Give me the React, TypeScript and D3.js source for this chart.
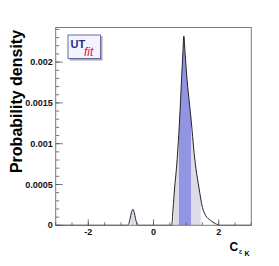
import React from 'react';
import * as d3 from 'd3';

// density curve of C_eps_K
const curveX = [-3, -0.8, -0.74, -0.7, -0.66, -0.63, -0.6, -0.56, -0.52, -0.47,
  0.56, 0.6, 0.65, 0.7, 0.75, 0.8, 0.86, 0.9, 0.93, 0.97, 1.03, 1.1, 1.16, 1.24,
  1.3, 1.39, 1.5, 1.6, 1.75, 1.9, 2.05, 3];
const curveY = [0, 0, 0.00004, 0.00012, 0.00018, 0.000196, 0.00017, 0.0001, 0.00003, 0,
  0, 0.0002, 0.00047, 0.00068, 0.00095, 0.00129, 0.00178, 0.0021, 0.00232, 0.0021,
  0.00178, 0.0015, 0.00127, 0.00091, 0.0007, 0.00047, 0.00022, 0.00012, 0.00006, 0.00002, 0, 0];

// probability intervals
const band68 = [[0.78, 1.15]];
const band95 = [[-0.7, -0.555], [0.615, 1.45]];

const xMajor = [-2, 0, 2];
const xMinor = d3.range(-3, 3.01, 0.5);
const yMajor = [0, 0.0005, 0.001, 0.0015, 0.002];
const yLabels = ['0', '0.0005', '0.001', '0.0015', '0.002'];
const yMinor = d3.range(0, 0.00241, 0.0001);

const W = 279, H = 266;
const L = 55.7, R = 251.3, T = 27.5, B = 225.3;

export default function App() {
  const x = d3.scaleLinear().domain([-3, 3]).range([L, R]);
  const y = d3.scaleLinear().domain([0, 0.0005 * (B - T) / 40.8]).range([B, T]);
  const pts: [number, number][] = curveX.map((v, i) => [v, curveY[i]]);
  const line = d3.line<[number, number]>().x(d => x(d[0])).y(d => y(d[1])).curve(d3.curveMonotoneX);
  const area = d3.area<[number, number]>().x(d => x(d[0])).y0(y(0)).y1(d => y(d[1])).curve(d3.curveMonotoneX);
  const areaPath = area(pts) || '';
  const font = '"Liberation Sans", Arial, Helvetica, sans-serif';

  return (
    <svg width={W} height={H} style={{ position: 'absolute', left: 0, top: 0, background: '#fff' }}>
      <defs>
        {band95.map((b, i) => (
          <clipPath id={'c95' + i} key={i}>
            <rect x={x(b[0])} y={T} width={x(b[1]) - x(b[0])} height={B - T} />
          </clipPath>
        ))}
        {band68.map((b, i) => (
          <clipPath id={'c68' + i} key={i}>
            <rect x={x(b[0])} y={T} width={x(b[1]) - x(b[0])} height={B - T} />
          </clipPath>
        ))}
      </defs>
      {band95.map((b, i) => (
        <path key={'a' + i} d={areaPath} fill="#dcdce8" clipPath={`url(#c95${i})`} />
      ))}
      {band68.map((b, i) => (
        <path key={'b' + i} d={areaPath} fill="#9494e4" clipPath={`url(#c68${i})`} />
      ))}
      <path d={line(pts) || ''} fill="none" stroke="#222" strokeWidth={1} />

      <rect x={L} y={T} width={R - L} height={B - T} fill="none" stroke="#7a7a7a" strokeWidth={1} />

      {yMinor.map((v, i) => (
        <line key={'ym' + i} x1={L} x2={L + 3.5} y1={y(v)} y2={y(v)} stroke="#555" strokeWidth={0.8} />
      ))}
      {yMajor.map((v, i) => (
        <g key={'yM' + i}>
          <line x1={L} x2={L + 7} y1={y(v)} y2={y(v)} stroke="#555" strokeWidth={0.8} />
          <text x={L - 3} y={y(v) + 3} textAnchor="end" fontFamily={font} fontWeight="bold" fontSize={9} fill="#111">
            {yLabels[i]}
          </text>
        </g>
      ))}
      {xMinor.map((v, i) => (
        <line key={'xm' + i} x1={x(v)} x2={x(v)} y1={B} y2={B - 3} stroke="#555" strokeWidth={0.8} />
      ))}
      {xMajor.map((v, i) => (
        <g key={'xM' + i}>
          <line x1={x(v)} x2={x(v)} y1={B} y2={B - 6} stroke="#555" strokeWidth={0.8} />
          <text x={x(v)} y={235} textAnchor="middle" fontFamily={font} fontWeight="bold" fontSize={9} fill="#111">
            {v}
          </text>
        </g>
      ))}

      <text transform="translate(21.5,101.5) rotate(-90)" textAnchor="middle" fontFamily={font} fontWeight="bold" fontSize={16} fill="#000">
        Probability density
      </text>

      <text x={229.5} y={250.7} fontFamily={font} fontWeight="bold" fontSize={12} fill="#000">C</text>
      <text x={239} y={253.5} fontFamily={font} fontSize={8} fill="#000">ε</text>
      <text x={244.5} y={256} fontFamily={font} fontWeight="bold" fontSize={7} fill="#000">K</text>

      <g>
        <rect x={69.5} y={36} width={33} height={24.5} fill="#a8a8a8" />
        <rect x={68} y={35} width={32.5} height={23.5} fill="#f4f4fc" stroke="#6a6aa8" strokeWidth={1} />
        <text x={70.5} y={47.5} fontFamily={font} fontWeight="bold" fontSize={11} fill="#1e2a8a">UT</text>
        <text x={84} y={56} fontFamily={font} fontStyle="italic" fontSize={12} fill="#e02030">fit</text>
      </g>
    </svg>
  );
}
